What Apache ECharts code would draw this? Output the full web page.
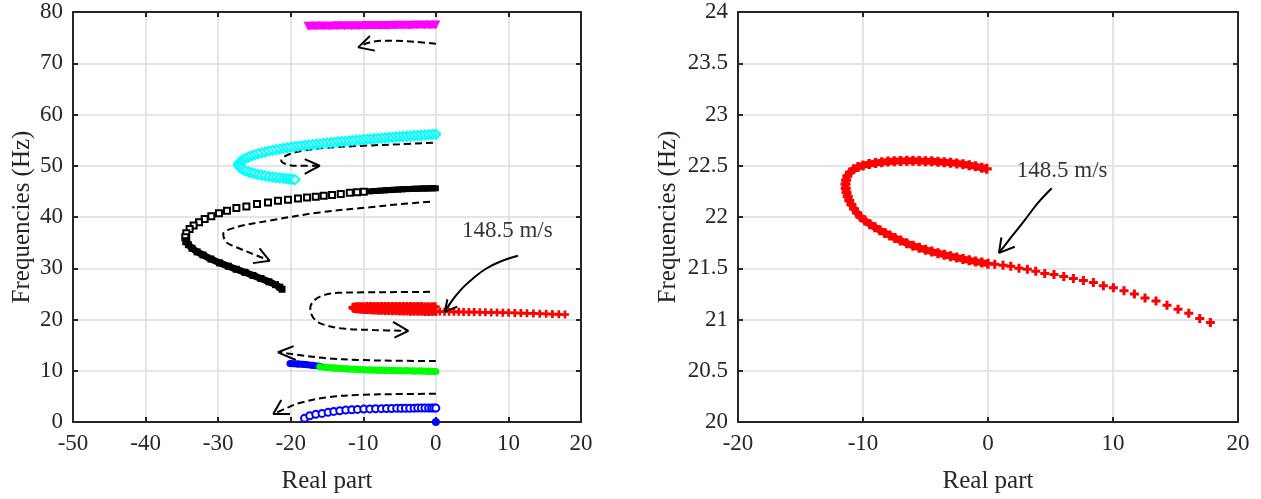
<!DOCTYPE html>
<html><head><meta charset="utf-8">
<script src="https://cdn.jsdelivr.net/npm/echarts@6/dist/echarts.min.js"></script>
<style>html,body{margin:0;padding:0;background:#fff}#c{width:1261px;height:499px}</style>
</head><body><div id="c"></div>
<script>
// ---------- tick labels ----------
const xTicksLeft = [-50, -40, -30, -20, -10, 0, 10, 20];
const yTicksLeft = [0, 10, 20, 30, 40, 50, 60, 70, 80];
const xTicksRight = [-20, -10, 0, 10, 20];
const yTicksRight = [20, 20.5, 21, 21.5, 22, 22.5, 23, 23.5, 24];

// ---------- root locus data [real, freq] ----------
const magentaPoints = [[-17.6,77.24],[-16.6,77.25],[-15.6,77.27],[-14.6,77.28],[-13.6,77.3],[-12.6,77.31],[-11.6,77.32],[-10.6,77.34],[-9.6,77.35],[-8.6,77.36],[-7.6,77.38],[-6.6,77.39],[-5.6,77.4],[-4.6,77.42],[-3.6,77.43],[-2.6,77.44],[-1.6,77.46],[-0.8,77.47],[0,77.48]];
const cyanPoints = [[0,56.15],[-0.5,56.1],[-1,56.05],[-1.5,56.0],[-2,55.95],[-2.5,55.9],[-3,55.85],[-3.5,55.8],[-4,55.75],[-4.5,55.7],[-5,55.65],[-5.5,55.6],[-6,55.55],[-6.5,55.5],[-7,55.45],[-7.5,55.39],[-8,55.33],[-8.5,55.28],[-9,55.22],[-9.5,55.16],[-10,55.1],[-10.5,55.03],[-11,54.97],[-11.5,54.9],[-12,54.84],[-12.5,54.77],[-13,54.7],[-13.5,54.63],[-14,54.56],[-14.5,54.49],[-15,54.42],[-15.5,54.35],[-16,54.27],[-16.5,54.2],[-17,54.12],[-17.5,54.04],[-18,53.96],[-18.5,53.88],[-19,53.79],[-19.5,53.7],[-20,53.6],[-20.5,53.49],[-21,53.38],[-21.5,53.26],[-22,53.13],[-22.5,53.0],[-23,52.85],[-23.5,52.69],[-24,52.52],[-24.5,52.33],[-25,52.12],[-25.4,51.92],[-25.8,51.7],[-26.2,51.45],[-26.5,51.2],[-26.8,50.95],[-27.0,50.7],[-27.15,50.45],[-27.2,50.2],[-27.15,49.95],[-27.0,49.7],[-26.8,49.45],[-26.5,49.2],[-26.2,49.0],[-25.8,48.8],[-25.4,48.62],[-25,48.45],[-24.5,48.3],[-24,48.15],[-23.5,48.02],[-23,47.9],[-22.5,47.8],[-22,47.7],[-21.5,47.62],[-21,47.55],[-20.6,47.48],[-20.2,47.42],[-19.8,47.36],[-19.4,47.3]];
const blackDenseUpper = [[0,45.6],[-0.4,45.6],[-0.8,45.59],[-1.2,45.58],[-1.6,45.56],[-2.0,45.55],[-2.5,45.53],[-3.0,45.5],[-3.5,45.47],[-4.0,45.44],[-4.6,45.4],[-5.2,45.35],[-5.8,45.3],[-6.4,45.25],[-7.0,45.2],[-7.7,45.14],[-8.4,45.07],[-9.1,45.0]];
const blackSparse = [[-9.93,44.92],[-10.85,44.85],[-11.86,44.72],[-13.1,44.47],[-14.3,44.27],[-15.45,44.14],[-16.55,43.95],[-17.75,43.82],[-19.0,43.62],[-20.37,43.37],[-21.75,43.17],[-23.13,42.85],[-24.64,42.52],[-26.11,42.07],[-27.49,41.75],[-28.78,41.23],[-29.89,40.71],[-30.94,40.13],[-31.86,39.61],[-32.64,38.97],[-33.38,38.32],[-33.93,37.67],[-34.39,36.83],[-34.53,36.06],[-34.39,35.28]];
const blackDenseLower = [[-34.39,35.28],[-34.1,34.6],[-33.6,33.9],[-32.9,33.2],[-32.1,32.6],[-31.0,31.8],[-29.8,31.05],[-28.6,30.4],[-27.5,29.8],[-26.3,29.2],[-25.2,28.6],[-24.1,28.0],[-23.0,27.35],[-22.1,26.8],[-21.5,26.3],[-21.2,25.9]];
const redDense = [[-0.1,22.47],[-0.5,22.48],[-1.0,22.495],[-1.5,22.505],[-2.0,22.515],[-2.5,22.523],[-3.0,22.53],[-3.5,22.535],[-4.0,22.54],[-4.5,22.543],[-5.0,22.545],[-5.5,22.547],[-6.0,22.548],[-6.5,22.548],[-7.0,22.547],[-7.5,22.545],[-8.0,22.541],[-8.5,22.535],[-9.0,22.527],[-9.5,22.517],[-10.0,22.503],[-10.4,22.487],[-10.75,22.465],[-11.05,22.435],[-11.25,22.40],[-11.35,22.36],[-11.4,22.32],[-11.38,22.28],[-11.32,22.24],[-11.22,22.20],[-11.1,22.16],[-10.93,22.12],[-10.72,22.08],[-10.48,22.04],[-10.2,22.0],[-9.85,21.965],[-9.45,21.93],[-9.05,21.9],[-8.65,21.87],[-8.25,21.845],[-7.85,21.82],[-7.45,21.795],[-7.0,21.77],[-6.5,21.745],[-6.0,21.72],[-5.5,21.70],[-5.0,21.68],[-4.5,21.663],[-4.0,21.647],[-3.5,21.632],[-3.0,21.618],[-2.5,21.604],[-2.0,21.59],[-1.5,21.577],[-1.0,21.565],[-0.5,21.555],[0.0,21.545]];
const redSparse = [[0.54,21.54],[1.2,21.53],[1.82,21.52],[2.48,21.50],[3.15,21.49],[3.82,21.47],[4.54,21.45],[5.28,21.44],[6.06,21.42],[6.83,21.40],[7.63,21.38],[8.43,21.36],[9.23,21.33],[10.03,21.31],[10.88,21.28],[11.71,21.25],[12.56,21.21],[13.44,21.18],[14.32,21.14],[15.2,21.10],[16.06,21.06],[16.94,21.01],[17.79,20.97]];
const greenPoints = [[-16.0,10.8],[-15,10.65],[-14,10.52],[-13,10.42],[-12,10.34],[-11,10.27],[-10,10.21],[-9,10.16],[-8,10.12],[-7,10.08],[-6,10.05],[-5,10.02],[-4,9.99],[-3,9.96],[-2,9.93],[-1,9.9],[0,9.87]];
const blueUpper = [[-20.1,11.4],[-19,11.3],[-18,11.2],[-17,11.05],[-16,10.9]];
const blueLower = [[-18.1,0.72],[-17.38,1.23],[-16.55,1.49],[-15.68,1.68],[-14.85,1.88],[-14.07,2.07],[-13.24,2.2],[-12.41,2.33],[-11.59,2.39],[-10.8,2.46],[-9.93,2.52],[-9.1,2.55],[-8.3,2.58],[-7.5,2.6],[-6.8,2.62],[-6.1,2.64],[-5.4,2.66],[-4.8,2.67],[-4.2,2.68],[-3.6,2.69],[-3.0,2.7],[-2.5,2.71],[-2.0,2.71],[-1.5,2.72],[-1.0,2.72],[-0.6,2.72],[-0.3,2.72],[0,2.72]];
const blueOrigin = [[0,0]];

// ---------- dashed direction arrows (left panel) ----------
const dashMagenta = [[0,73.8],[-3,74.2],[-6,74.4],[-8,74.35],[-9.5,73.9],[-10.6,73.2]];
const headMagenta = [[-9.09,75.3],[-10.7,73.1],[-8.4,72.46]];
const dashCyan = [[-0.4,54.5],[-5,54.2],[-10,53.9],[-15.1,53.5],[-18.5,52.9],[-20.6,52.0],[-21.3,51.0],[-20.6,50.3],[-19.3,50.0],[-16.2,50.0]];
const headCyan = [[-18.07,51.3],[-16.0,50.0],[-18.07,48.4]];
const dashBlack = [[-0.8,42.97],[-5,42.5],[-9.1,41.9],[-16,40.9],[-22.9,39.3],[-27.5,38.0],[-29.3,36.7],[-28.9,35.1],[-27.5,34.1],[-24.7,32.5],[-22.9,31.5]];
const headBlack = [[-24.3,33.9],[-22.9,31.45],[-25.2,31.0]];
const dashRed = [[-0.8,25.4],[-5,25.35],[-10,25.3],[-13.5,25.2],[-15.3,24.8],[-16.6,23.9],[-17.3,22.3],[-17.0,20.6],[-16.0,19.3],[-13.2,18.3],[-8.6,17.95],[-3.9,17.8]];
const headRed = [[-5.9,19.55],[-3.8,17.8],[-5.7,16.45]];
const dashGreen = [[0,11.9],[-5,11.95],[-10.5,12.1],[-15.1,12.45],[-18,12.9],[-21.6,13.6]];
const headGreen = [[-19.6,14.8],[-21.75,13.6],[-19.3,12.1]];
const dashBlue = [[0,5.5],[-5,5.45],[-10.5,5.3],[-15.1,4.8],[-18.8,3.7],[-20.6,2.7],[-22.3,1.6]];
const headBlue = [[-21.3,4.3],[-22.4,1.55],[-20.1,1.55]];

// ---------- 148.5 m/s annotations ----------
const speedText = '148.5 m/s';
const annoLineLeft = [[11.31,32.43],[8.83,31.26],[6.9,29.9],[5.24,28.16],[3.86,26.41],[2.76,24.66],[1.86,22.91],[1.24,21.5]];
const annoHeadLeft = [[1.59,23.96],[1.24,21.5],[2.94,22.5]];
const annoTextLeft = [[3.6,37.3]];
const annoLineRight = [[5.1,22.28],[3.98,22.135],[2.94,21.97],[1.9,21.81],[0.88,21.65]];
const annoHeadRight = [[1.07,21.80],[0.88,21.65],[2.14,21.71]];
const annoTextRight = [[2.3,22.45]];

// ---------- styling ----------
const FONT = 'Liberation Serif';
const AX = '#262626';
const GRIDC = '#dcdcdc';
const PLUS = 'path://M3,0h3v3h3v3h-3v3h-3v-3h-3v-3h3z';

function xAx(grid, ticks, pos, main) {
  return {
    type: 'value', gridIndex: grid, position: pos,
    min: ticks[0], max: ticks[ticks.length - 1], interval: ticks[1] - ticks[0],
    name: main ? 'Real part' : '', nameLocation: 'middle', nameGap: 47,
    nameTextStyle: { fontFamily: FONT, fontSize: 25, color: AX },
    axisLine: { show: true, onZero: false, lineStyle: { color: AX, width: 2 } },
    axisTick: { show: true, inside: true, length: 5, lineStyle: { color: AX, width: 2 } },
    axisLabel: { show: main, margin: 10, fontFamily: FONT, fontSize: 23, color: AX },
    splitLine: { show: main, lineStyle: { color: GRIDC, width: 1.5 } }
  };
}
function yAx(grid, ticks, pos, main, gap) {
  return {
    type: 'value', gridIndex: grid, position: pos,
    min: ticks[0], max: ticks[ticks.length - 1], interval: ticks[1] - ticks[0],
    name: main ? 'Frequencies (Hz)' : '', nameLocation: 'middle', nameGap: gap,
    nameTextStyle: { fontFamily: FONT, fontSize: 25, color: AX },
    axisLine: { show: true, onZero: false, lineStyle: { color: AX, width: 2 } },
    axisTick: { show: true, inside: true, length: 5, lineStyle: { color: AX, width: 2 } },
    axisLabel: { show: main, margin: 10, fontFamily: FONT, fontSize: 23, color: AX },
    splitLine: { show: main, lineStyle: { color: GRIDC, width: 1.5 } }
  };
}

const series = [];
function curve(data, ax, color, opts) {
  series.push(Object.assign({
    type: 'line', xAxisIndex: ax, yAxisIndex: ax, data: data,
    showSymbol: true, symbol: 'circle', symbolSize: 6,
    lineStyle: { color: color, width: 0 },
    itemStyle: { color: color, borderColor: color, borderWidth: 0 },
    z: 4, silent: true
  }, opts));
}
function dashed(data, ax) {
  series.push({ type: 'line', xAxisIndex: ax, yAxisIndex: ax, data: data, smooth: 0.35,
    showSymbol: false, symbol: 'none', lineStyle: { color: '#000', width: 2, type: [7, 4] }, z: 3, silent: true });
}
function solid(data, ax, smooth) {
  series.push({ type: 'line', xAxisIndex: ax, yAxisIndex: ax, data: data, smooth: smooth || 0,
    showSymbol: false, symbol: 'none', lineStyle: { color: '#000', width: 2 }, z: 6, silent: true });
}
function label(data, ax) {
  series.push({ type: 'scatter', xAxisIndex: ax, yAxisIndex: ax, data: data, symbolSize: 0, z: 7, silent: true,
    label: { show: true, position: [0, 0], align: 'left', verticalAlign: 'middle', formatter: speedText,
      fontFamily: FONT, fontSize: 23, color: '#000' } });
}

// ---- left panel (axis index 0) ----
dashed(dashMagenta, 0); solid(headMagenta, 0);
dashed(dashCyan, 0); solid(headCyan, 0);
dashed(dashBlack, 0); solid(headBlack, 0);
dashed(dashRed, 0); solid(headRed, 0);
dashed(dashGreen, 0); solid(headGreen, 0);
dashed(dashBlue, 0); solid(headBlue, 0);

curve(magentaPoints, 0, '#ff00ff', { symbol: 'triangle', symbolRotate: 180, symbolSize: 9, lineStyle: { color: '#ff00ff', width: 7 } });
curve(cyanPoints, 0, '#00ffff', { symbol: 'emptyDiamond', symbolSize: 9, lineStyle: { color: '#00ffff', width: 2 }, itemStyle: { color: '#00ffff', borderColor: '#00ffff', borderWidth: 2 } });
curve(blackDenseUpper, 0, '#000', { symbol: 'rect', symbolSize: 6, lineStyle: { color: '#000', width: 6 } });
curve(blackSparse, 0, '#000', { symbol: 'emptyRect', symbolSize: 6, lineStyle: { width: 0 }, itemStyle: { color: '#000', borderColor: '#000', borderWidth: 2.4 } });
curve(blackDenseLower, 0, '#000', { symbol: 'rect', symbolSize: 7, lineStyle: { color: '#000', width: 7 } });
curve(redDense, 0, '#ff0000', { symbol: PLUS, symbolSize: 9, lineStyle: { color: '#ff0000', width: 7 } });
curve(redSparse, 0, '#ff0000', { symbol: PLUS, symbolSize: 8, lineStyle: { width: 0 } });
curve(blueUpper, 0, '#0000ff', { symbolSize: 7, lineStyle: { color: '#0000ff', width: 7 } });
curve(greenPoints, 0, '#00ff00', { symbolSize: 7, lineStyle: { color: '#00ff00', width: 7 } });
curve(blueLower, 0, '#0000ff', { symbol: 'emptyCircle', symbolSize: 7, lineStyle: { width: 0 }, itemStyle: { color: '#0000ff', borderColor: '#0000ff', borderWidth: 2 } });
curve(blueOrigin, 0, '#0000ff', { symbolSize: 8, clip: false, z: 8 });

solid(annoLineLeft, 0, 0.4); solid(annoHeadLeft, 0);
label(annoTextLeft, 0);

// ---- right panel (axis index 2) ----
curve(redDense, 2, '#ff0000', { symbol: PLUS, symbolSize: 10, lineStyle: { color: '#ff0000', width: 7 } });
curve(redSparse, 2, '#ff0000', { symbol: PLUS, symbolSize: 9, lineStyle: { width: 0 } });
solid(annoLineRight, 2, 0.4); solid(annoHeadRight, 2);
label(annoTextRight, 2);

const chart = echarts.init(document.getElementById('c'), null, { renderer: 'canvas' });
chart.setOption({
  animation: false,
  backgroundColor: '#fff',
  grid: [
    { left: 73, top: 12, width: 508, height: 412 },
    { left: 738, top: 12, width: 500, height: 412 }
  ],
  xAxis: [
    xAx(0, xTicksLeft, 'bottom', true), xAx(0, xTicksLeft, 'top', false),
    xAx(1, xTicksRight, 'bottom', true), xAx(1, xTicksRight, 'top', false)
  ],
  yAxis: [
    yAx(0, yTicksLeft, 'left', true, 38), yAx(0, yTicksLeft, 'right', false, 0),
    yAx(1, yTicksRight, 'left', true, 57), yAx(1, yTicksRight, 'right', false, 0)
  ],
  series: series
});
</script></body></html>
